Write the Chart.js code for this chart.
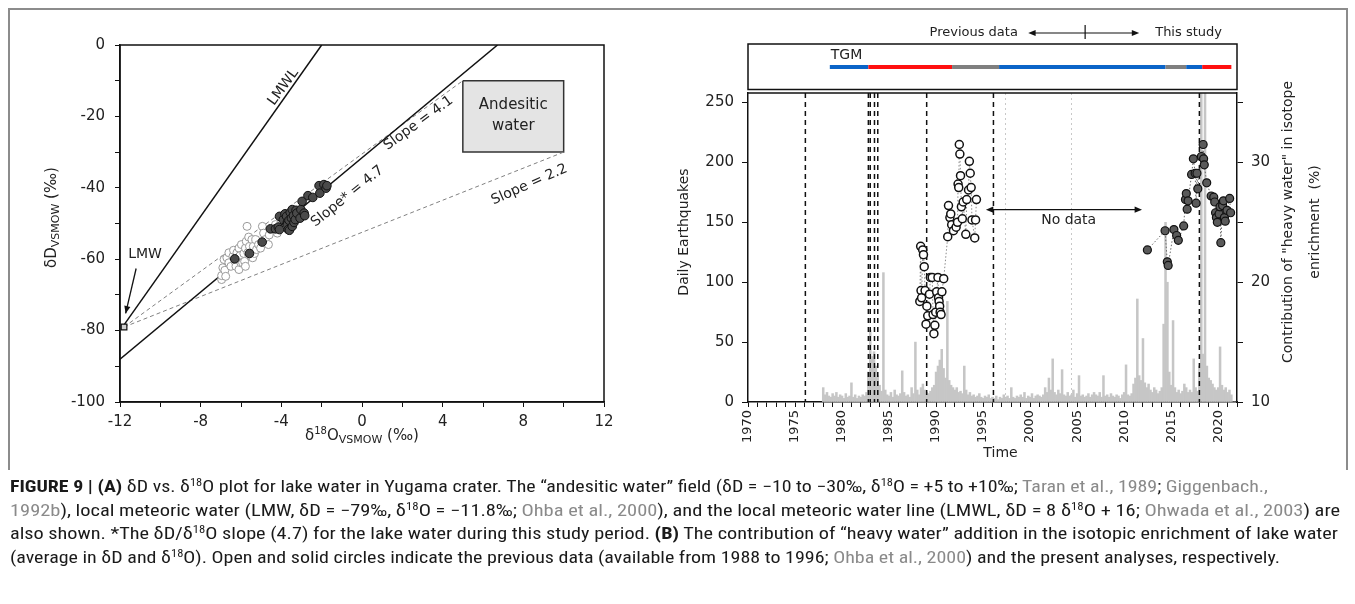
<!DOCTYPE html>
<html>
<head>
<meta charset="utf-8">
<script src="https://cdn.jsdelivr.net/npm/chart.js@4.4.1/dist/chart.umd.min.js"></script>
<style>
  body { margin: 0; background: #fff; width: 1355px; height: 604px; overflow: hidden; position: relative; }
  #frame { position: absolute; left: 8px; top: 8px; width: 1336px; height: 460px; border: 2px solid #8c8c8c; border-bottom: none; }
  #panelA { position: absolute; left: 0; top: 0; }
  #panelB { position: absolute; left: 660px; top: 0; }
  #caption { position: absolute; left: 10px; top: 475px; font-family: "Liberation Sans Narrow", "Roboto Condensed", "Liberation Sans", sans-serif; font-size: 16px; line-height: 23.5px; color: #1a1a1a; }
  #caption .ln { display: block; white-space: nowrap; width: max-content; transform-origin: 0 0; }
  #caption .ref { color: #8a8a8a; }
  #caption sup { font-size: 10px; line-height: 0; vertical-align: 6px; }
</style>
</head>
<body>
<div id="frame"></div>
<canvas id="panelA" width="660" height="480"></canvas>
<canvas id="panelB" width="695" height="480"></canvas>
<div id="caption">
  <span class="ln"><b>FIGURE 9 | (A)</b> δD vs. δ<sup>18</sup>O plot for lake water in Yugama crater. The “andesitic water” field (δD = −10 to −30‰, δ<sup>18</sup>O = +5 to +10‰; <span class="ref">Taran et al., 1989</span>; <span class="ref">Giggenbach.,</span></span>
  <span class="ln"><span class="ref">1992b</span>), local meteoric water (LMW, δD = −79‰, δ<sup>18</sup>O = −11.8‰; <span class="ref">Ohba et al., 2000</span>), and the local meteoric water line (LMWL, δD = 8 δ<sup>18</sup>O + 16; <span class="ref">Ohwada et al., 2003</span>) are</span>
  <span class="ln">also shown. *The δD/δ<sup>18</sup>O slope (4.7) for the lake water during this study period. <b>(B)</b> The contribution of “heavy water” addition in the isotopic enrichment of lake water</span>
  <span class="ln">(average in δD and δ<sup>18</sup>O). Open and solid circles indicate the previous data (available from 1988 to 1996; <span class="ref">Ohba et al., 2000</span>) and the present analyses, respectively.</span>
</div>
<script>
// ---------- panel A : dD vs d18O ----------
var prevO = [-6.96, -6.96, -6.9, -6.84, -6.8, -6.76, -6.7, -6.6, -6.6, -6.5, -6.4, -6.37, -6.3, -6.25, -6.2, -6.1, -6.1, -6.05, -6.01, -5.98, -5.92, -5.86, -5.82, -5.78, -5.78, -5.74, -5.7, -5.66, -5.62, -5.58, -5.52, -5.46, -5.42, -5.39, -5.33, -5.27, -5.23, -5.13, -5.03, -4.94, -4.88, -4.8, -4.64, -4.6, -4.29, -4.2];
var prevD = [-65.7, -64.6, -62.4, -60.1, -63.1, -64.8, -59.6, -58.2, -61.0, -62.0, -59.2, -57.5, -60.6, -62.0, -58.2, -56.9, -62.9, -59.0, -61.0, -55.9, -61.0, -58.4, -60.6, -56.9, -62.0, -55.0, -50.8, -58.2, -53.8, -56.4, -59.2, -54.5, -59.6, -56.4, -58.4, -54.5, -57.3, -55.9, -56.9, -50.8, -52.7, -54.5, -55.9, -53.2, -50.3, -52.7];
var nowO = [-6.31, -5.58, -4.95, -4.54, -4.29, -4.15, -4.09, -4.09, -3.9, -3.82, -3.74, -3.7, -3.7, -3.66, -3.62, -3.6, -3.56, -3.5, -3.46, -3.46, -3.4, -3.37, -3.31, -3.27, -3.23, -3.07, -3.03, -2.97, -2.87, -2.84, -2.68, -2.44, -2.13, -2.09, -1.89, -1.78, -1.74];
var nowD = [-59.9, -58.4, -55.2, -51.5, -51.5, -51.0, -51.7, -48.0, -48.9, -47.3, -48.0, -49.7, -50.3, -51.7, -49.1, -51.9, -46.9, -48.5, -46.1, -50.8, -47.8, -49.7, -48.9, -46.3, -47.1, -48.5, -46.1, -43.8, -47.1, -47.8, -42.2, -42.7, -39.4, -41.5, -39.1, -40.1, -39.4];
var lmwO = [-11.8], lmwD = [-79];
var lmwlO = [-11.8, -2], lmwlD = [-78.4, 0];
var slope47O = [-12, 6.72], slope47D = [-88, 0];
var slope41O = [-11.8, 5], slope41D = [-79, -10];
var slope22O = [-11.8, 10], slope22D = [-79, -30];
var andesiteO = [5, 10, 10, 5, 5], andesiteD = [-10, -10, -30, -30, -10];

// ---------- panel B : earthquakes + heavy water ----------
var eqFirstYear = 1978, eqBinYears = 0.2;
var eqCounts = [
  12, 6, 8, 5, 4,      // 1978
  7, 5, 8, 4, 6,       // 1979
  5, 3, 7, 4, 5,       // 1980
  16, 4, 6, 3, 5,      // 1981
  4, 6, 5, 8, 25,      // 1982
  60, 38, 42, 30, 22,  // 1983
  14, 9, 108, 10, 6,   // 1984
  5, 8, 4, 10, 6,      // 1985
  5, 7, 26, 8, 5,      // 1986
  6, 4, 12, 7, 50,     // 1987
  10, 6, 12, 15, 10,   // 1988
  8, 7, 9, 12, 14,     // 1989
  25, 30, 35, 44, 28,  // 1990
  20, 84, 18, 14, 12,  // 1991
  10, 12, 8, 9, 7,     // 1992
  30, 10, 6, 8, 5,     // 1993
  6, 4, 5, 7, 4,       // 1994
  3, 5, 4, 6, 3,       // 1995
  4, 3, 5, 2, 4,       // 1996
  3, 6, 4, 5, 3,       // 1997
  12, 4, 3, 5, 4,      // 1998
  6, 4, 8, 3, 5,       // 1999
  4, 7, 3, 5, 6,       // 2000
  5, 4, 6, 12, 8,      // 2001
  20, 10, 36, 8, 6,    // 2002
  10, 7, 27, 6, 5,     // 2003
  8, 5, 6, 10, 4,      // 2004
  7, 22, 5, 6, 4,      // 2005
  5, 7, 4, 6, 8,       // 2006
  6, 5, 8, 4, 22,      // 2007
  5, 6, 4, 7, 5,       // 2008
  4, 6, 5, 3, 6,       // 2009
  8, 31, 6, 5, 7,      // 2010
  15, 20, 86, 22, 18,  // 2011
  53, 16, 12, 15, 10,  // 2012
  8, 12, 10, 7, 9,     // 2013
  12, 65, 150, 100, 25,// 2014
  14, 68, 12, 8, 10,   // 2015
  7, 9, 15, 12, 8,     // 2016
  10, 8, 36, 12, 9,    // 2017
  30, 300, 40, 280, 30,// 2018
  20, 18, 15, 12, 10,  // 2019
  12, 46, 14, 10, 12,  // 2020
  8, 10, 6, 0, 0       // 2021
];
var prevYear = [1988.27, 1988.36, 1988.40, 1988.46, 1988.58, 1988.66, 1988.74, 1988.83, 1988.93, 1989.02, 1989.11, 1989.30, 1989.40, 1989.59, 1989.68, 1989.77, 1989.87, 1989.96, 1990.06, 1990.20, 1990.26, 1990.32, 1990.38, 1990.43, 1990.53, 1990.62, 1990.81, 1991.24, 1991.32, 1991.47, 1991.56, 1991.66, 1991.85, 1992.13, 1992.28, 1992.34, 1992.41, 1992.47, 1992.53, 1992.60, 1992.69, 1992.79, 1992.88, 1993.16, 1993.26, 1993.45, 1993.54, 1993.63, 1993.73, 1993.82, 1994.11, 1994.20, 1994.29];
var prevHeavy = [18.4, 23.0, 19.3, 18.7, 22.7, 22.3, 21.3, 19.3, 16.5, 18.0, 17.2, 19.0, 20.4, 20.4, 17.3, 15.7, 16.4, 17.5, 19.2, 20.4, 18.7, 18.4, 18.0, 17.5, 17.3, 19.2, 20.3, 23.8, 26.4, 25.4, 25.7, 24.8, 24.3, 24.6, 25.0, 28.2, 27.9, 31.5, 30.7, 28.9, 26.3, 25.3, 26.7, 24.0, 26.9, 27.7, 30.1, 29.1, 27.9, 25.2, 23.7, 25.2, 26.9];
var studyYear = [2012.47, 2014.35, 2014.59, 2014.68, 2015.29, 2015.58, 2015.76, 2016.33, 2016.52, 2016.61, 2016.70, 2016.80, 2017.17, 2017.36, 2017.55, 2017.65, 2017.74, 2017.83, 2018.21, 2018.40, 2018.45, 2018.52, 2018.78, 2019.25, 2019.53, 2019.63, 2019.72, 2019.81, 2019.91, 2020.09, 2020.19, 2020.28, 2020.47, 2020.56, 2020.66, 2020.75, 2020.94, 2021.22, 2021.32];
var studyHeavy = [22.7, 24.3, 21.7, 21.4, 24.4, 23.9, 23.5, 24.7, 26.9, 27.4, 26.1, 26.8, 29.0, 30.3, 29.1, 26.6, 29.1, 27.8, 30.5, 31.5, 30.3, 29.8, 28.3, 27.2, 27.1, 26.7, 25.8, 25.4, 25.0, 25.7, 26.3, 23.3, 26.4, 26.8, 25.4, 25.1, 26.0, 27.0, 25.8];
var eventYears = [1976.1, 1982.8, 1983.0, 1983.45, 1983.8, 1989.0, 1996.1, 2018.0];
var faintYears = [1997.3, 2004.3];
var tgmFrom = [1978.7, 1982.8, 1991.7, 1996.7, 2014.4, 2016.6, 2018.3];
var tgmTo = [1982.8, 1991.7, 1996.7, 2014.4, 2016.6, 2018.3, 2021.4];
var tgmColor = ['#0a64c8', '#ff1010', '#7f7f7f', '#0a64c8', '#7f7f7f', '#0a64c8', '#ff1010'];

var FONT = '"DejaVu Sans", Verdana, sans-serif';
Chart.defaults.font.family = FONT;
Chart.defaults.color = '#222';
Chart.defaults.animation = false;

function pts(xs, ys) {
    return xs.map(function (x, i) { return { x: x, y: ys[i] }; });
}

function richText(ctx, parts, cx, cy, angle) {
    ctx.save();
    ctx.translate(cx, cy);
    ctx.rotate(angle);
    var total = 0;
    parts.forEach(function (p) { ctx.font = p[1] + 'px ' + FONT; total += ctx.measureText(p[0]).width; });
    var px = -total / 2;
    ctx.textAlign = 'left';
    ctx.textBaseline = 'alphabetic';
    parts.forEach(function (p) {
        ctx.font = p[1] + 'px ' + FONT;
        ctx.fillText(p[0], px, 5 + (p[2] || 0));
        px += ctx.measureText(p[0]).width;
    });
    ctx.restore();
}

function arrowHead(ctx, x0, y0, x1, y1, size) {
    var a = Math.atan2(y1 - y0, x1 - x0);
    ctx.beginPath();
    ctx.moveTo(x1, y1);
    ctx.lineTo(x1 - size * Math.cos(a - 0.4), y1 - size * Math.sin(a - 0.4));
    ctx.lineTo(x1 - size * Math.cos(a + 0.4), y1 - size * Math.sin(a + 0.4));
    ctx.closePath();
    ctx.fill();
}

// notes placed along the reference lines of panel A
var notesA = [
    { text: 'LMWL', o: -3.9, d: -11.8, deg: -54 },
    { text: 'Slope = 4.1', o: 2.8, d: -21.9, deg: -36 },
    { text: 'Slope* = 4.7', o: -0.72, d: -42.4, deg: -39 },
    { text: 'Slope = 2.2', o: 8.3, d: -39.1, deg: -24 }
];

var decorA = {
    id: 'decorA',
    afterDatasetsDraw: function (chart) {
        var ctx = chart.ctx, a = chart.chartArea, x = chart.scales.x, y = chart.scales.y;
        ctx.save();
        ctx.strokeStyle = '#111';
        ctx.lineWidth = 1.5;
        ctx.strokeRect(a.left, a.top, a.right - a.left, a.bottom - a.top);

        ctx.fillStyle = '#222';
        ctx.textAlign = 'center';
        ctx.textBaseline = 'middle';
        ctx.font = '14px ' + FONT;
        notesA.forEach(function (n) {
            ctx.save();
            ctx.translate(x.getPixelForValue(n.o), y.getPixelForValue(n.d));
            ctx.rotate(n.deg * Math.PI / 180);
            ctx.fillText(n.text, 0, 0);
            ctx.restore();
        });
        ctx.fillText('LMW', x.getPixelForValue(-10.76), y.getPixelForValue(-58.7));
        ctx.font = '15px ' + FONT;
        ctx.fillText('Andesitic', x.getPixelForValue(7.5), y.getPixelForValue(-16.9));
        ctx.fillText('water', x.getPixelForValue(7.5), y.getPixelForValue(-22.7));

        // LMW pointer
        var ax0 = x.getPixelForValue(-11.2), ay0 = y.getPixelForValue(-62.6);
        var ax1 = x.getPixelForValue(-11.72), ay1 = y.getPixelForValue(-75.2);
        ctx.lineWidth = 1.3;
        ctx.beginPath(); ctx.moveTo(ax0, ay0); ctx.lineTo(ax1, ay1); ctx.stroke();
        ctx.fillStyle = '#111';
        arrowHead(ctx, ax0, ay0, ax1, ay1, 8);

        ctx.fillStyle = '#222';
        richText(ctx, [['δ', 15], ['18', 10, -6], ['O', 15], ['VSMOW', 11, 3], [' (‰)', 15]], (a.left + a.right) / 2, 435, 0);
        richText(ctx, [['δD', 15], ['VSMOW', 11, 3], [' (‰)', 15]], 51, (a.top + a.bottom) / 2 - 6, -Math.PI / 2);
        ctx.restore();
    }
};

new Chart(document.getElementById('panelA'), {
    type: 'scatter',
    data: {
        datasets: [
            { type: 'line', data: pts(andesiteO, andesiteD), fill: 'shape', backgroundColor: '#e4e4e4', borderColor: '#333', borderWidth: 1.5, pointRadius: 0, order: 9 },
            { type: 'line', data: pts(lmwlO, lmwlD), borderColor: '#111', borderWidth: 1.5, pointRadius: 0, order: 8 },
            { type: 'line', data: pts(slope47O, slope47D), borderColor: '#111', borderWidth: 1.5, pointRadius: 0, order: 8 },
            { type: 'line', data: pts(slope41O, slope41D), borderColor: '#808080', borderWidth: 1, borderDash: [4, 3], pointRadius: 0, order: 8 },
            { type: 'line', data: pts(slope22O, slope22D), borderColor: '#808080', borderWidth: 1, borderDash: [4, 3], pointRadius: 0, order: 8 },
            { data: pts(prevO, prevD), pointRadius: 4, backgroundColor: '#fff', borderColor: '#9a9a9a', borderWidth: 1, order: 2 },
            { data: pts(nowO, nowD), pointRadius: 4.3, backgroundColor: '#4a4a4a', borderColor: '#111', borderWidth: 1, order: 1 },
            { data: pts(lmwO, lmwD), pointStyle: 'rect', pointRadius: 4, backgroundColor: '#d0d0d0', borderColor: '#111', borderWidth: 1.2, order: 0 }
        ]
    },
    options: {
        responsive: false,
        devicePixelRatio: 1,
        layout: { padding: { left: 0, right: 56, top: 45, bottom: 0 } },
        plugins: { legend: { display: false }, tooltip: { enabled: false } },
        scales: {
            x: {
                type: 'linear', min: -12, max: 12,
                afterFit: function (s) { s.height = 78; },
                border: { color: '#111', width: 1.5 },
                grid: { drawOnChartArea: false, tickLength: 5, tickColor: '#111' },
                ticks: { stepSize: 2, padding: 6, font: { size: 15 }, color: '#222',
                    callback: function (v) { return v % 4 === 0 ? String(v) : ''; } }
            },
            y: {
                type: 'linear', min: -100, max: 0,
                afterFit: function (s) { s.width = 120; },
                border: { color: '#111', width: 1.5 },
                grid: { drawOnChartArea: false, tickLength: 5, tickColor: '#111' },
                ticks: { stepSize: 10, padding: 10, font: { size: 15 }, color: '#222',
                    callback: function (v) { return v % 20 === 0 ? String(v) : ''; } }
            }
        }
    },
    plugins: [decorA]
});

// ---------- panel B ----------
var eqYears = eqCounts.map(function (c, i) { return +(eqFirstYear + i * eqBinYears).toFixed(1); });

var decorB = {
    id: 'decorB',
    afterDatasetDraw: function (chart, args) {
        if (args.meta.type !== 'bar') return;
        var ctx = chart.ctx, a = chart.chartArea, x = chart.scales.x;
        ctx.save();
        ctx.strokeStyle = '#c8c8c8';
        ctx.lineWidth = 1;
        ctx.setLineDash([2, 3]);
        faintYears.forEach(function (yr) {
            var px = Math.round(x.getPixelForValue(yr)) + 0.5;
            ctx.beginPath(); ctx.moveTo(px, a.top); ctx.lineTo(px, a.bottom); ctx.stroke();
        });
        ctx.strokeStyle = '#111';
        ctx.lineWidth = 1.5;
        ctx.setLineDash([5, 4]);
        eventYears.forEach(function (yr) {
            var px = x.getPixelForValue(yr);
            ctx.beginPath(); ctx.moveTo(px, a.top); ctx.lineTo(px, a.bottom); ctx.stroke();
        });
        ctx.restore();
    },
    afterDraw: function (chart) {
        var ctx = chart.ctx, a = chart.chartArea, x = chart.scales.x, y = chart.scales.y;
        ctx.save();
        ctx.strokeStyle = '#111';
        ctx.lineWidth = 1.5;
        // top border of the plot and the TGM strip box
        ctx.beginPath(); ctx.moveTo(a.left, a.top); ctx.lineTo(a.right, a.top); ctx.stroke();
        ctx.strokeRect(a.left, 44, a.right - a.left, 45.5);
        ctx.lineWidth = 4;
        tgmFrom.forEach(function (f, i) {
            ctx.strokeStyle = tgmColor[i];
            ctx.beginPath(); ctx.moveTo(x.getPixelForValue(f), 67); ctx.lineTo(x.getPixelForValue(tgmTo[i]), 67); ctx.stroke();
        });
        ctx.fillStyle = '#222';
        ctx.font = '14px ' + FONT;
        ctx.textBaseline = 'middle';
        ctx.textAlign = 'left';
        ctx.fillText('TGM', x.getPixelForValue(1978.8), 55);

        // period header
        ctx.font = '13px ' + FONT;
        ctx.textAlign = 'right';
        ctx.fillText('Previous data', x.getPixelForValue(1998.7), 33);
        ctx.textAlign = 'left';
        ctx.fillText('This study', x.getPixelForValue(2013.3), 33);
        var h0 = x.getPixelForValue(1999.8), h1 = x.getPixelForValue(2011.6), hm = x.getPixelForValue(2005.85);
        ctx.strokeStyle = '#111';
        ctx.fillStyle = '#111';
        ctx.lineWidth = 1.2;
        ctx.beginPath(); ctx.moveTo(h0 + 4, 33); ctx.lineTo(h1 - 4, 33); ctx.moveTo(hm, 25); ctx.lineTo(hm, 39); ctx.stroke();
        arrowHead(ctx, h1, 33, h0, 33, 8);
        arrowHead(ctx, h0, 33, h1, 33, 8);

        // no data span
        var n0 = x.getPixelForValue(1995.3), n1 = x.getPixelForValue(2011.9), ny = y.getPixelForValue(160.6);
        ctx.beginPath(); ctx.moveTo(n0 + 4, ny); ctx.lineTo(n1 - 4, ny); ctx.stroke();
        arrowHead(ctx, n1, ny, n0, ny, 8);
        arrowHead(ctx, n0, ny, n1, ny, 8);
        ctx.fillStyle = '#222';
        ctx.font = '14px ' + FONT;
        ctx.textAlign = 'center';
        ctx.fillText('No data', x.getPixelForValue(2004.1), y.getPixelForValue(151.5));

        // axis titles
        ctx.fillText('Time', (a.left + a.right) / 2 + 8, 453);
        ctx.save();
        ctx.translate(24, 232);
        ctx.rotate(-Math.PI / 2);
        ctx.fillText('Daily Earthquakes', 0, 0);
        ctx.restore();
        ctx.save();
        ctx.translate(628, 222);
        ctx.rotate(-Math.PI / 2);
        ctx.font = '14px ' + FONT;
        ctx.fillText('Contribution of "heavy water" in isotope', 0, 0);
        ctx.fillText('enrichment  (%)', 0, 27);
        ctx.restore();
        ctx.restore();
    }
};

new Chart(document.getElementById('panelB'), {
    type: 'line',
    data: {
        datasets: [
            { type: 'bar', data: pts(eqYears, eqCounts), yAxisID: 'y', backgroundColor: '#c6c6c6', barPercentage: 1, categoryPercentage: 1, order: 5 },
            { type: 'line', data: pts(prevYear, prevHeavy), yAxisID: 'y1', borderColor: '#8a8a8a', borderWidth: 1, borderDash: [1.5, 2],
              pointRadius: 4, pointBackgroundColor: '#fff', pointBorderColor: '#111', pointBorderWidth: 1.5, order: 1 },
            { type: 'line', data: pts(studyYear, studyHeavy), yAxisID: 'y1', borderColor: '#6a6a6a', borderWidth: 1, borderDash: [1.5, 2],
              pointRadius: 4, pointBackgroundColor: '#5a5a5a', pointBorderColor: '#111', pointBorderWidth: 1.2, order: 0 }
        ]
    },
    options: {
        responsive: false,
        devicePixelRatio: 1,
        layout: { padding: { left: 0, right: 58, top: 93, bottom: 0 } },
        plugins: { legend: { display: false }, tooltip: { enabled: false } },
        scales: {
            x: {
                type: 'linear', min: 1970, max: 2022, offset: false,
                afterFit: function (s) { s.height = 78; },
                border: { color: '#111', width: 1.5 },
                grid: { drawOnChartArea: false, offset: false, tickLength: 5, tickColor: '#111' },
                ticks: { stepSize: 1, autoSkip: false, minRotation: 90, maxRotation: 90, padding: 3, font: { size: 13 }, color: '#222',
                    callback: function (v) { return v % 5 === 0 ? String(v) : ''; } }
            },
            y: {
                type: 'linear', position: 'left', min: 0, max: 258,
                afterFit: function (s) { s.width = 88; },
                border: { color: '#111', width: 1.5 },
                grid: { drawOnChartArea: false, tickLength: 6, tickColor: '#111' },
                ticks: { stepSize: 50, includeBounds: false, padding: 8, font: { size: 15 }, color: '#222' }
            },
            y1: {
                type: 'linear', position: 'right', min: 10, max: 35.8,
                afterFit: function (s) { s.width = 60; },
                border: { color: '#111', width: 1.5 },
                grid: { drawOnChartArea: false, tickLength: 6, tickColor: '#111' },
                ticks: { stepSize: 5, includeBounds: false, padding: 8, font: { size: 15 }, color: '#222',
                    callback: function (v) { return v % 10 === 0 ? String(v) : ''; } }
            }
        }
    },
    plugins: [decorB]
});

// fit each caption line to the width it takes in the printed figure
var capWidths = [1258, 1330, 1328, 1270];
document.querySelectorAll('#caption .ln').forEach(function (el, i) {
    var w = el.getBoundingClientRect().width;
    el.style.transform = 'scaleX(' + (capWidths[i] / w) + ')';
});
</script>
</body>
</html>
